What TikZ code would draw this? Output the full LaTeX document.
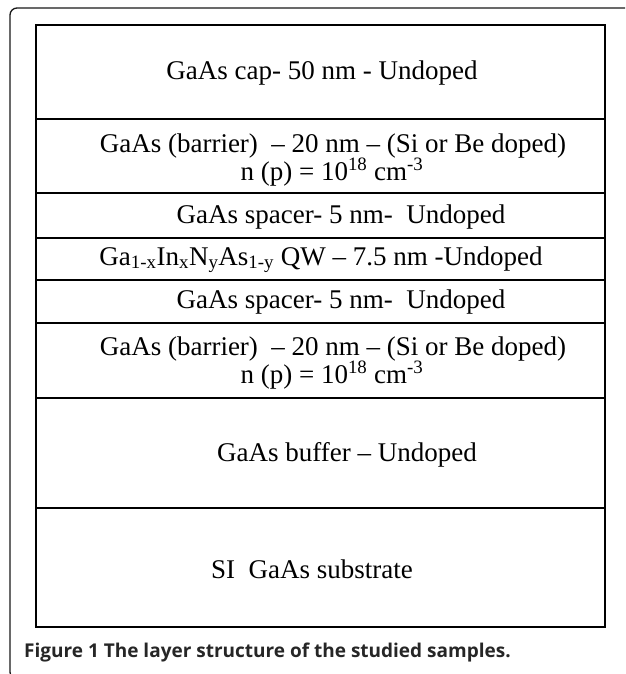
\documentclass[tikz,border=0pt]{standalone}
\usepackage{fontspec}
\setmainfont{Liberation Serif}
\newfontfamily\capfont{Open Sans}
\usepackage{tikz}

\begin{document}
\begin{tikzpicture}[x=1pt,y=-1pt,
    lay/.style={anchor=base,inner sep=0pt,font=\fontsize{27}{30}\selectfont},
    rule/.style={line width=2.4pt}]
     \useasboundingbox (0,0) rectangle (625,674);
     \clip (0,0) rectangle (625,674);
     \draw[line width=1.3pt, rounded corners=7pt, black!90] (640,679) -- (10,679) -- (10,8) -- (640,8);
     \draw[rule] (36,25) rectangle (605,627);
     \foreach \y in {119,193,238,280,323,398,508}
          \draw[rule] (36,\y) -- (605,\y);
     \node[lay] (cap) at (322,80) {GaAs cap- 50 nm - Undoped};
     \node[lay] (barA) at (333,152) {GaAs (barrier) \ -- 20 nm -- (Si or Be doped)};
     \node[lay] (dopA) at (332,180) {n (p) = 10\textsuperscript{18} cm\textsuperscript{-3}};
     \node[lay] (spcA) at (341,223) {GaAs spacer- 5 nm- \ Undoped};
     \node[lay] (qw) at (321,265) {Ga\textsubscript{1-x}In\textsubscript{x}N\textsubscript{y}As\textsubscript{1-y} QW -- 7.5 nm -Undoped};
     \node[lay] (spcB) at (341,308) {GaAs spacer- 5 nm- \ Undoped};
     \node[lay] (barB) at (333,355) {GaAs (barrier) \ -- 20 nm -- (Si or Be doped)};
     \node[lay] (dopB) at (332,383) {n (p) = 10\textsuperscript{18} cm\textsuperscript{-3}};
     \node[lay] (buf) at (347,461) {GaAs buffer -- Undoped};
     \node[lay] (sub) at (312,578) {SI \ GaAs substrate};
     \node[anchor=base west, inner sep=0pt, text=black!85,
          font=\capfont\bfseries\fontsize{19}{21}\selectfont] (fig) at (24,657)
          {Figure 1 The layer structure of the studied samples.};
\end{tikzpicture}
\end{document}
